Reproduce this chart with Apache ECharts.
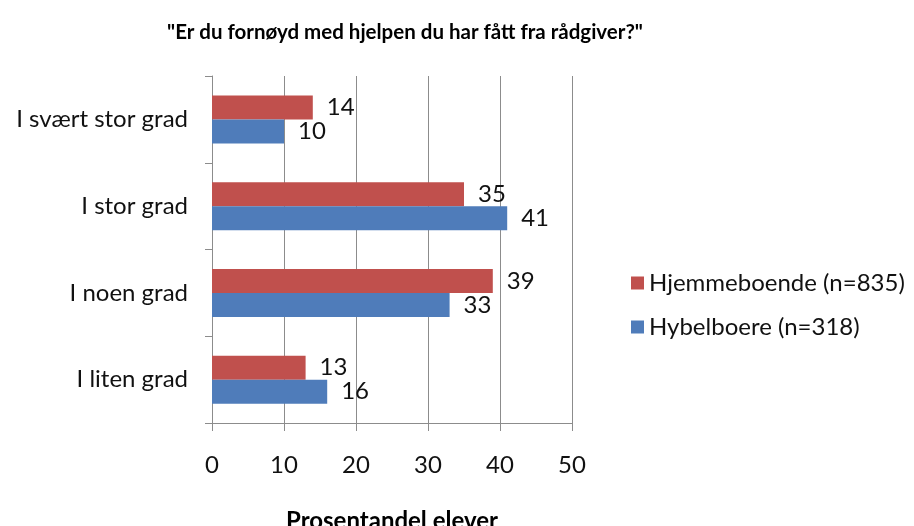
<!DOCTYPE html>
<html>
<head>
<meta charset="utf-8">
<script src="https://cdn.jsdelivr.net/npm/echarts@6/dist/echarts.min.js"></script>
<style>
  html, body { margin: 0; padding: 0; background: #fff; }
  #container { width: 914px; height: 526px; }
</style>
</head>
<body>
<div id="container"></div>
<script>
// categories listed bottom to top
var categories = ['I liten grad', 'I noen grad', 'I stor grad', 'I svært stor grad'];
var hjemmeboende = [13, 39, 35, 14];
var hybelboere = [16, 33, 41, 10];
var xTicks = [0, 10, 20, 30, 40, 50];

var font = 'Lato, "Open Sans", sans-serif';
var myChart = echarts.init(document.getElementById('container'));

var labelStyle = {
    show: true,
    position: 'right',
    distance: 14,
    fontFamily: font,
    fontSize: 24,
    color: '#111'
};

option = {
    animation: false,
    title: {
        text: '"Er du fornøyd med hjelpen du har fått fra rådgiver?"',
        left: 400,
        textAlign: 'center',
        top: 17,
        textStyle: {
            fontFamily: font,
            fontWeight: 'bold',
            fontSize: 20.5,
            color: '#000'
        }
    },
    legend: {
        orient: 'vertical',
        left: 626,
        top: 266,
        itemWidth: 13,
        itemHeight: 13,
        itemGap: 20,
        icon: 'rect',
        data: ['Hjemmeboende (n=835)', 'Hybelboere (n=318)'],
        textStyle: {
            fontFamily: font,
            fontSize: 24,
            color: '#111'
        }
    },
    grid: {
        left: 212,
        right: 342,
        top: 76,
        bottom: 103,
        outerBoundsMode: 'none'
    },
    xAxis: {
        type: 'value',
        min: xTicks[0],
        max: xTicks[xTicks.length - 1],
        interval: 10,
        name: 'Prosentandel elever',
        nameLocation: 'middle',
        nameGap: 86,
        nameTextStyle: {
            fontFamily: font,
            fontWeight: 'bold',
            fontSize: 24,
            color: '#000'
        },
        axisLine: { show: true, lineStyle: { color: '#8c8c8c', width: 1 } },
        axisTick: { show: true, length: 8, lineStyle: { color: '#8c8c8c' } },
        axisLabel: {
            margin: 30,
            fontFamily: font,
            fontSize: 24,
            color: '#111'
        },
        splitLine: { show: true, lineStyle: { color: '#8c8c8c', width: 1 } }
    },
    yAxis: {
        type: 'category',
        data: categories,
        axisLine: { show: true, lineStyle: { color: '#8c8c8c', width: 1 } },
        axisTick: { show: true, length: 7, lineStyle: { color: '#8c8c8c' } },
        axisLabel: {
            margin: 24,
            fontFamily: font,
            fontSize: 24,
            color: '#111'
        }
    },
    series: [{
        name: 'Hjemmeboende (n=835)',
        type: 'bar',
        data: hjemmeboende,
        barWidth: 24,
        barGap: '0%',
        itemStyle: { color: '#c0504d' },
        label: labelStyle
    }, {
        name: 'Hybelboere (n=318)',
        type: 'bar',
        data: hybelboere,
        barWidth: 24,
        barGap: '0%',
        itemStyle: { color: '#4f7cba' },
        label: labelStyle
    }]
};

myChart.setOption(option);
</script>
</body>
</html>
